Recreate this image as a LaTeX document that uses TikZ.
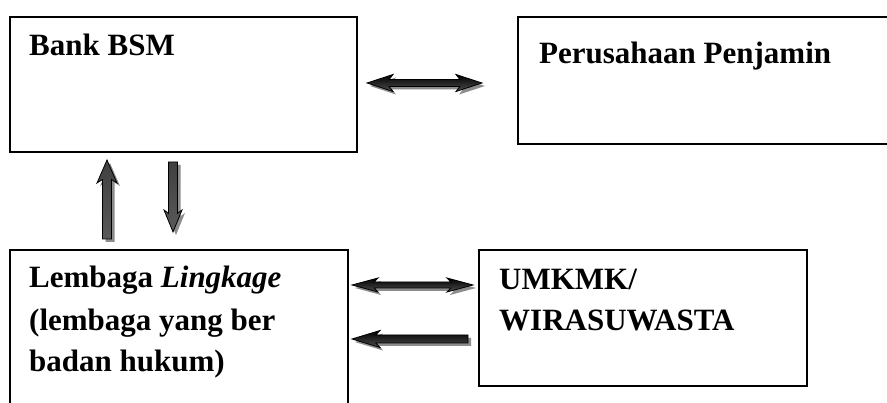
\documentclass[tikz,border=0pt]{standalone}
\usepackage{fontspec}
\setmainfont{Liberation Serif}
\usetikzlibrary{shadows}

% horizontal arrow with heads at both ends: left tip x, right tip x, y, head half width, shaft half width, head length
\newcommand\hdfat[6]{%
  \path[harrow] (#1,#3) -- ({#1+#6},{#3-#4}) -- ({#1+#6*0.85},{#3-#5})
    -- ({#2-#6*0.85},{#3-#5}) -- ({#2-#6},{#3-#4}) -- (#2,#3)
    -- ({#2-#6},{#3+#4}) -- ({#2-#6*0.85},{#3+#5})
    -- ({#1+#6*0.85},{#3+#5}) -- ({#1+#6},{#3+#4}) -- cycle;}
% horizontal arrow: tip x, tail x, y, head half width, shaft half width, signed head length
\newcommand\hfat[6]{%
  \path[harrow] (#1,#3) -- ({#1+#6},{#3-#4}) -- ({#1+#6*0.85},{#3-#5})
    -- (#2,{#3-#5}) -- (#2,{#3+#5}) -- ({#1+#6*0.85},{#3+#5})
    -- ({#1+#6},{#3+#4}) -- cycle;}
% vertical arrow: x, tip y, tail y, head half width, shaft half width, signed head length
\newcommand\vfat[6]{%
  \path[varrow] (#1,#2) -- ({#1+#4},{#2+#6}) -- ({#1+#5},{#2+#6*0.85})
    -- ({#1+#5},#3) -- ({#1-#5},#3) -- ({#1-#5},{#2+#6*0.85})
    -- ({#1-#4},{#2+#6}) -- cycle;}

\begin{document}
\begin{tikzpicture}[x=1pt,y=-1pt,
  box/.style={draw=black, line width=1.6pt, inner sep=0pt, anchor=north west},
  boxtext/.style={anchor=base west, inner sep=0pt,
    font=\fontsize{31}{42}\selectfont\bfseries},
  fatarrow/.style={draw=black, line width=0.8pt, line join=miter,
    drop shadow={shadow xshift=3pt, shadow yshift=-3pt, fill=black!45, opacity=1}},
  harrow/.style={fatarrow, top color=black, bottom color=black!70},
  varrow/.style={fatarrow, top color=black!75, middle color=black, bottom color=black!65}]

\useasboundingbox (0,0) rectangle (887,403);
\fill[white] (0,0) rectangle (887,403);
\clip (0,0) rectangle (887,403);

% boxes
\node[box, minimum width=347pt, minimum height=135pt] (bank) at (9,16) {};
\node[box, minimum width=400pt, minimum height=127pt] (penjamin) at (517,16) {};
\node[box, minimum width=338pt, minimum height=200pt] (lembaga) at (9,249) {};
\node[box, minimum width=328pt, minimum height=136pt] (umkmk) at (478,249) {};

% box texts, one node per line
\node[boxtext] (tbank) at (29,56) {Bank BSM};
\node[boxtext] (tpenjamin) at (539,64) {Perusahaan Penjamin};
\node[boxtext] (tlembagaA) at (29,288) {Lembaga \textit{Lingkage}};
\node[boxtext] (tlembagaB) at (29,331) {(lembaga yang ber};
\node[boxtext] (tlembagaC) at (29,372) {badan hukum)};
\node[boxtext] (tumkmkA) at (499,290) {UMKMK/};
\node[boxtext] (tumkmkB) at (499,331) {WIRASUWASTA};

% block arrows
\hdfat{367}{482}{83}{8.5}{3.5}{26}
\vfat{107}{160}{239}{10}{4.5}{23}
\vfat{173}{232}{162}{9}{4.5}{-22}
\hdfat{352}{473}{285}{7}{3}{26}
\hfat{352}{468}{339}{8.5}{4}{28}

\end{tikzpicture}
\end{document}
